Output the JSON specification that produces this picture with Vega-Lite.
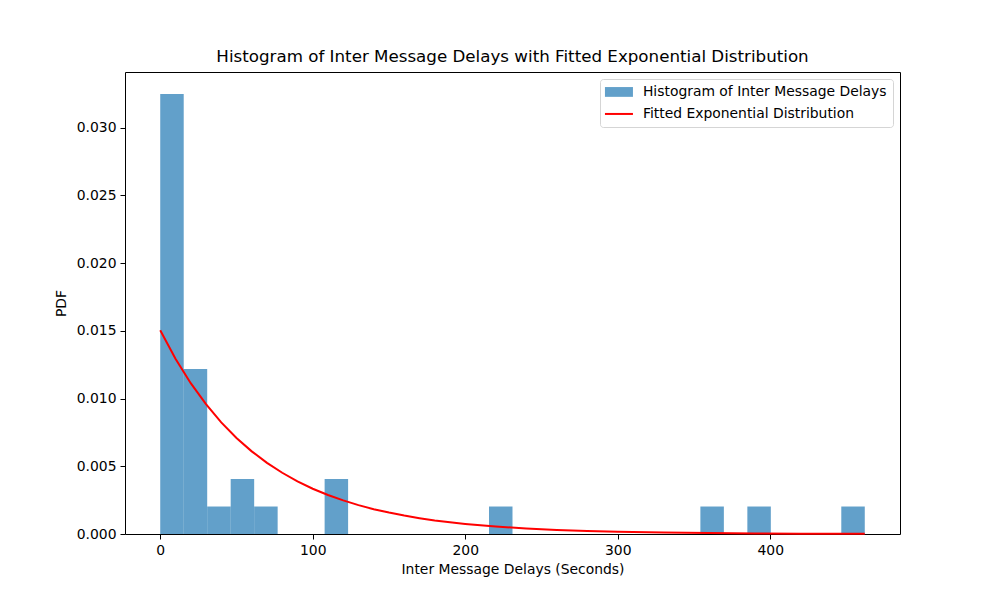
{
  "$schema": "https://vega.github.io/schema/vega-lite/v6.json",
  "description": "Histogram of Inter Message Delays with Fitted Exponential Distribution",
  "width": 775,
  "height": 462,
  "autosize": {"type": "none"},
  "padding": {"left": 125, "top": 72, "right": 100, "bottom": 66},
  "background": "#ffffff",
  "title": {
    "text": "Histogram of Inter Message Delays with Fitted Exponential Distribution",
    "font": "DejaVu Sans",
    "fontSize": 16.7,
    "fontWeight": "normal",
    "color": "#000000",
    "anchor": "middle",
    "offset": 6
  },
  "datasets": {
    "hist": [
      {"bin_start": 0.0, "bin_end": 15.4, "density": 0.03247, "series": "Histogram of Inter Message Delays"},
      {"bin_start": 15.4, "bin_end": 30.8, "density": 0.012175, "series": "Histogram of Inter Message Delays"},
      {"bin_start": 30.8, "bin_end": 46.2, "density": 0.002029, "series": "Histogram of Inter Message Delays"},
      {"bin_start": 46.2, "bin_end": 61.6, "density": 0.004058, "series": "Histogram of Inter Message Delays"},
      {"bin_start": 61.6, "bin_end": 77.0, "density": 0.002029, "series": "Histogram of Inter Message Delays"},
      {"bin_start": 107.8, "bin_end": 123.2, "density": 0.004058, "series": "Histogram of Inter Message Delays"},
      {"bin_start": 215.6, "bin_end": 231.0, "density": 0.002029, "series": "Histogram of Inter Message Delays"},
      {"bin_start": 354.2, "bin_end": 369.6, "density": 0.002029, "series": "Histogram of Inter Message Delays"},
      {"bin_start": 385.0, "bin_end": 400.4, "density": 0.002029, "series": "Histogram of Inter Message Delays"},
      {"bin_start": 446.6, "bin_end": 462.0, "density": 0.002029, "series": "Histogram of Inter Message Delays"}
    ],
    "fit": [
      {"delay": 0, "pdf": 0.01504, "series": "Fitted Exponential Distribution"},
      {"delay": 10, "pdf": 0.01294, "series": "Fitted Exponential Distribution"},
      {"delay": 20, "pdf": 0.01113, "series": "Fitted Exponential Distribution"},
      {"delay": 30, "pdf": 0.00958, "series": "Fitted Exponential Distribution"},
      {"delay": 40, "pdf": 0.00824, "series": "Fitted Exponential Distribution"},
      {"delay": 50, "pdf": 0.00709, "series": "Fitted Exponential Distribution"},
      {"delay": 60, "pdf": 0.0061, "series": "Fitted Exponential Distribution"},
      {"delay": 70, "pdf": 0.00525, "series": "Fitted Exponential Distribution"},
      {"delay": 80, "pdf": 0.00452, "series": "Fitted Exponential Distribution"},
      {"delay": 90, "pdf": 0.00389, "series": "Fitted Exponential Distribution"},
      {"delay": 100, "pdf": 0.00334, "series": "Fitted Exponential Distribution"},
      {"delay": 110, "pdf": 0.00288, "series": "Fitted Exponential Distribution"},
      {"delay": 120, "pdf": 0.00248, "series": "Fitted Exponential Distribution"},
      {"delay": 130, "pdf": 0.00213, "series": "Fitted Exponential Distribution"},
      {"delay": 140, "pdf": 0.00183, "series": "Fitted Exponential Distribution"},
      {"delay": 150, "pdf": 0.00158, "series": "Fitted Exponential Distribution"},
      {"delay": 160, "pdf": 0.00136, "series": "Fitted Exponential Distribution"},
      {"delay": 170, "pdf": 0.00117, "series": "Fitted Exponential Distribution"},
      {"delay": 180, "pdf": 0.001, "series": "Fitted Exponential Distribution"},
      {"delay": 190, "pdf": 0.00086, "series": "Fitted Exponential Distribution"},
      {"delay": 200, "pdf": 0.00074, "series": "Fitted Exponential Distribution"},
      {"delay": 220, "pdf": 0.00055, "series": "Fitted Exponential Distribution"},
      {"delay": 240, "pdf": 0.00041, "series": "Fitted Exponential Distribution"},
      {"delay": 260, "pdf": 0.0003, "series": "Fitted Exponential Distribution"},
      {"delay": 280, "pdf": 0.00022, "series": "Fitted Exponential Distribution"},
      {"delay": 300, "pdf": 0.000165, "series": "Fitted Exponential Distribution"},
      {"delay": 330, "pdf": 0.000105, "series": "Fitted Exponential Distribution"},
      {"delay": 360, "pdf": 0.000067, "series": "Fitted Exponential Distribution"},
      {"delay": 390, "pdf": 0.000043, "series": "Fitted Exponential Distribution"},
      {"delay": 420, "pdf": 0.000027, "series": "Fitted Exponential Distribution"},
      {"delay": 462, "pdf": 0.0000145, "series": "Fitted Exponential Distribution"}
    ]
  },
  "encoding": {
    "color": {
      "field": "series",
      "type": "nominal",
      "scale": {
        "domain": ["Histogram of Inter Message Delays", "Fitted Exponential Distribution"],
        "range": ["#1f77b4", "#ff0000"]
      },
      "legend": {
        "title": null,
        "orient": "top-right",
        "offset": 7,
        "padding": 6,
        "strokeColor": "#d5d5d5",
        "fillColor": "#ffffff",
        "cornerRadius": 3,
        "labelFont": "DejaVu Sans",
        "labelFontSize": 13.9,
        "labelColor": "#000000",
        "labelLimit": 400,
        "symbolSize": 196,
        "symbolOffset": 6,
        "labelOffset": 17,
        "rowPadding": 7,
        "encode": {
          "symbols": {
            "update": {
              "shape": {"signal": "datum.value === 'Fitted Exponential Distribution' ? 'M-2,0H2' : 'M-2,-0.7H2V0.7H-2Z'"},
              "fill": {"signal": "datum.value === 'Fitted Exponential Distribution' ? 'transparent' : '#1f77b4'"},
              "fillOpacity": {"value": 0.7},
              "stroke": {"signal": "datum.value === 'Fitted Exponential Distribution' ? '#ff0000' : 'transparent'"},
              "strokeWidth": {"signal": "datum.value === 'Fitted Exponential Distribution' ? 2 : 0"},
              "opacity": {"value": 1}
            }
          }
        }
      }
    }
  },
  "layer": [
    {
      "data": {"name": "hist"},
      "mark": {"type": "bar", "opacity": 0.7, "strokeWidth": 0},
      "encoding": {
        "x": {
          "field": "bin_start",
          "type": "quantitative",
          "title": "Inter Message Delays (Seconds)",
          "scale": {"domain": [-23.1, 485.1], "nice": false, "zero": false},
          "axis": {"values": [0, 100, 200, 300, 400], "titlePadding": 6, "labelFlush": false}
        },
        "x2": {"field": "bin_end"},
        "y": {
          "field": "density",
          "type": "quantitative",
          "title": "PDF",
          "scale": {"domain": [0, 0.0341], "nice": false},
          "axis": {"values": [0, 0.005, 0.01, 0.015, 0.02, 0.025, 0.03], "format": ".3f", "titlePadding": 8}
        },
        "y2": {"datum": 0}
      }
    },
    {
      "data": {"name": "fit"},
      "mark": {"type": "line", "strokeWidth": 2},
      "encoding": {
        "x": {"field": "delay", "type": "quantitative"},
        "y": {"field": "pdf", "type": "quantitative"}
      }
    }
  ],
  "config": {
    "font": "DejaVu Sans",
    "view": {"stroke": "#000000", "strokeWidth": 1},
    "axis": {
      "grid": false,
      "domain": false,
      "ticks": true,
      "tickColor": "#000000",
      "tickSize": 5,
      "tickWidth": 1,
      "labelFont": "DejaVu Sans",
      "labelFontSize": 13.9,
      "labelColor": "#000000",
      "labelPadding": 4,
      "titleFont": "DejaVu Sans",
      "titleFontSize": 13.9,
      "titleFontWeight": "normal",
      "titleColor": "#000000"
    }
  }
}
